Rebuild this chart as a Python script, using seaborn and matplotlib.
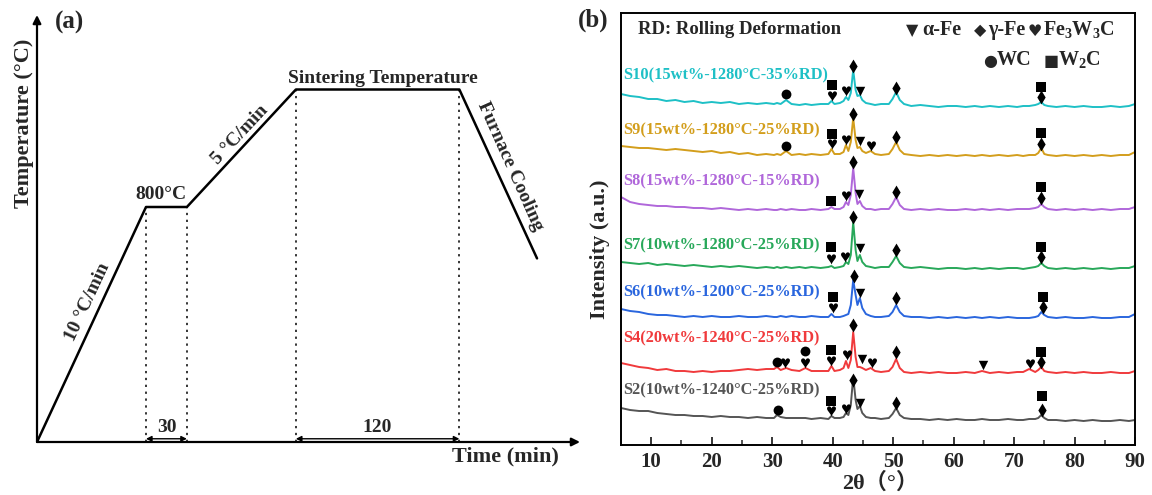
import numpy as np
import pandas as pd
import matplotlib
matplotlib.use("Agg")
import matplotlib.pyplot as plt
import seaborn as sns

# ---------------- panel (a): sintering schedule ----------------
time_min = [0, 80, 110, 190, 310, 367]
temp_c = [0, 800, 800, 1200, 1200, 625]
hold_start = [80, 190]
hold_end = [110, 310]
hold_labels = ["30", "120"]

# ---------------- panel (b): XRD patterns ----------------
two_theta = [5, 6.5, 8, 9.5, 11, 12.5, 14, 15.5, 17, 18.5, 20, 21.5, 23, 24.5, 26, 27.5, 29,
             30.3, 30.8, 31.4, 32.3, 33.2, 34.5, 35.5, 36.5, 38, 39.3, 39.8, 40.3, 41.2, 41.8,
             42.2, 42.6, 43.0, 43.4, 43.8, 44.1, 44.5, 44.9, 45.5, 46.3, 47, 48, 49.3, 49.9,
             50.5, 51.1, 51.8, 53, 54.5, 56, 57.5, 59, 60.5, 62, 63.5, 64.7, 66, 67.5, 69,
             70.5, 71.5, 72.5, 73.5, 74.0, 74.5, 75.0, 75.6, 77, 78.5, 80, 81.5, 83, 84.5,
             86, 87.5, 89, 90]

s10 = [351, 349, 348, 346, 346, 344, 345, 343, 344, 342, 343, 342, 343, 341, 342, 341, 342,
       341, 342, 341, 345, 341, 340, 341, 340, 341, 341, 344, 341, 342, 344,
       348, 345, 352, 375, 355, 349, 350, 345, 342, 341, 340, 341, 341, 346,
       353, 345, 341, 339, 340, 339, 338, 339, 339, 338, 339, 338, 339, 338, 339,
       338, 339, 339, 340, 341, 343, 340, 339, 338, 339, 338, 339, 338, 338,
       339, 338, 339, 341]
s9 = [299, 298, 297, 297, 296, 295, 296, 295, 294, 293, 294, 292, 293, 291, 292, 290, 291,
      290, 291, 290, 294, 290, 291, 290, 291, 290, 291, 296, 291, 291, 293,
      300, 294, 303, 327, 305, 297, 298, 294, 292, 294, 291, 290, 291, 296,
      303, 295, 291, 290, 289, 290, 289, 290, 289, 290, 289, 290, 289, 290, 289,
      290, 289, 290, 290, 292, 297, 291, 290, 289, 290, 289, 290, 289, 290,
      289, 290, 290, 293]
s8 = [248, 243, 241, 240, 239, 239, 238, 238, 237, 237, 236, 237, 236, 235, 236, 235, 236,
      235, 235, 236, 235, 236, 235, 235, 236, 235, 236, 238, 236, 236, 238,
      243, 240, 250, 277, 252, 241, 244, 239, 236, 236, 235, 236, 236, 241,
      248, 240, 236, 235, 236, 235, 236, 235, 235, 236, 235, 236, 235, 236, 235,
      236, 236, 236, 237, 238, 241, 238, 236, 235, 236, 235, 236, 235, 236,
      235, 236, 236, 238]
s7 = [183, 182, 181, 182, 180, 181, 180, 179, 180, 179, 178, 179, 178, 179, 178, 177, 178,
      177, 178, 177, 178, 177, 178, 177, 178, 177, 178, 179, 177, 178, 179,
      183, 181, 190, 223, 195, 184, 190, 183, 179, 178, 177, 178, 178, 183,
      189, 182, 178, 177, 178, 177, 176, 177, 177, 176, 177, 176, 177, 176, 177,
      177, 176, 177, 178, 179, 182, 179, 177, 176, 177, 176, 177, 176, 177,
      176, 177, 177, 179]
s6 = [136, 134, 133, 131, 130, 130, 129, 128, 129, 128, 129, 128, 128, 129, 128, 128, 129,
      128, 128, 129, 128, 129, 128, 128, 129, 128, 128, 131, 128, 128, 129,
      130, 131, 140, 165, 150, 140, 147, 137, 131, 129, 128, 128, 129, 133,
      140, 133, 129, 128, 128, 127, 128, 127, 128, 127, 128, 127, 128, 127, 128,
      127, 127, 127, 128, 129, 133, 130, 128, 127, 128, 127, 127, 128, 127,
      127, 128, 128, 131]
s4 = [82, 80, 78, 77, 75, 76, 74, 74, 73, 74, 73, 74, 74, 75, 76, 75, 76,
      76, 78, 75, 77, 75, 74, 77, 74, 74, 74, 79, 74, 75, 77,
      84, 77, 85, 113, 88, 78, 78, 77, 75, 77, 74, 73, 74, 78,
      86, 77, 73, 72, 73, 72, 73, 72, 72, 73, 72, 74, 72, 73, 72,
      73, 73, 76, 73, 75, 78, 74, 73, 72, 73, 72, 73, 72, 72,
      73, 72, 72, 74]
s2 = [37, 35, 34, 34, 32, 31, 30, 30, 29, 29, 28, 29, 28, 28, 27, 28, 27,
      27, 30, 28, 27, 27, 27, 27, 26, 27, 26, 29, 27, 27, 28,
      32, 30, 40, 68, 45, 36, 39, 32, 28, 27, 27, 26, 27, 31,
      37, 30, 27, 26, 26, 25, 26, 25, 26, 25, 25, 26, 25, 25, 26,
      25, 25, 26, 26, 27, 30, 27, 25, 25, 24, 25, 24, 25, 24,
      24, 25, 24, 25]

sample_names = ["S10(15wt%-1280°C-35%RD)", "S9(15wt%-1280°C-25%RD)", "S8(15wt%-1280°C-15%RD)",
                "S7(10wt%-1280°C-25%RD)", "S6(10wt%-1200°C-25%RD)", "S4(20wt%-1240°C-25%RD)",
                "S2(10wt%-1240°C-25%RD)"]
sample_values = [s10, s9, s8, s7, s6, s4, s2]

# phase markers: phase, 2theta, intensity level
mark_phase = ["WC", "W2C", "Fe3W3C", "Fe3W3C", "g", "a", "g", "W2C", "g",
              "WC", "W2C", "Fe3W3C", "Fe3W3C", "g", "a", "Fe3W3C", "g", "W2C", "g",
              "W2C", "Fe3W3C", "a", "g", "g", "W2C", "g",
              "W2C", "Fe3W3C", "Fe3W3C", "g", "a", "g", "W2C", "g",
              "W2C", "Fe3W3C", "g", "a", "g", "W2C", "g",
              "WC", "Fe3W3C", "WC", "Fe3W3C", "W2C", "Fe3W3C", "Fe3W3C", "g", "a", "Fe3W3C", "g", "a", "Fe3W3C", "g", "W2C",
              "WC", "W2C", "Fe3W3C", "Fe3W3C", "g", "a", "g", "W2C", "g"]
mark_x = [32.3, 39.9, 39.9, 42.2, 43.4, 44.5, 50.5, 74.4, 74.4,
          32.3, 39.9, 39.9, 42.2, 43.4, 44.6, 46.4, 50.5, 74.4, 74.4,
          39.8, 42.2, 44.4, 43.4, 50.5, 74.4, 74.4,
          39.8, 39.8, 42.1, 43.4, 44.5, 50.5, 74.5, 74.5,
          40.1, 40.1, 43.5, 44.5, 50.5, 74.8, 74.8,
          30.8, 32.2, 35.5, 35.5, 39.8, 39.8, 42.4, 43.3, 44.8, 46.5, 50.4, 64.8, 72.7, 74.4, 74.4,
          31.0, 39.8, 39.8, 42.2, 43.4, 44.5, 50.5, 74.7, 74.7]
mark_y = [351, 360, 349, 354, 379, 354, 357, 358, 348,
          299, 311, 301, 305, 331, 304, 299, 308, 312, 301,
          244, 249, 251, 283, 253, 258, 247,
          198, 186, 188, 228, 197, 195, 198, 188,
          148, 137, 169, 152, 147, 148, 138,
          83, 82, 94, 82, 95, 84, 90, 120, 86, 82, 93, 80, 81, 83, 93,
          35, 44, 34, 36, 65, 42, 42, 49, 35]

# ---------------- styling ----------------
sns.set_style("ticks")
plt.rcParams["font.family"] = ["Liberation Serif", "DejaVu Sans"]
plt.rcParams["font.weight"] = "bold"
plt.rcParams["mathtext.fontset"] = "custom"
plt.rcParams["mathtext.rm"] = "Liberation Serif:bold"
plt.rcParams["mathtext.it"] = "Liberation Serif:bold"
plt.rcParams["mathtext.bf"] = "Liberation Serif:bold"

W, H = 1152, 495
fig = plt.figure(figsize=(W / 100, H / 100), dpi=100)
fig.patch.set_facecolor("white")


def fx(px):
    return px / W


def fy(py):
    return 1 - py / H


# ---------------- panel (a) ----------------
ax_a = fig.add_axes([fx(37), fy(442), fx(580) - fx(37), fy(15) - fy(442)])
ax_a.set_xlim(0, 543 / 1.3625)
ax_a.set_ylim(0, 427 / 0.29375)
for sp in ax_a.spines.values():
    sp.set_visible(False)
ax_a.set_xticks([])
ax_a.set_yticks([])
ax_a.patch.set_alpha(0)

sns.lineplot(x=time_min, y=temp_c, sort=False, color="black", lw=1.8, ax=ax_a)

arrow_kw = dict(arrowstyle="-|>", lw=1.6, color="black", shrinkA=0, shrinkB=0, mutation_scale=12)
ax_a.annotate("", xy=(0, 1), xytext=(0, 0), xycoords="axes fraction", arrowprops=arrow_kw)
ax_a.annotate("", xy=(1, 0), xytext=(0, 0), xycoords="axes fraction", arrowprops=arrow_kw)

for t0, t1, lab in zip(hold_start, hold_end, hold_labels):
    for t in (t0, t1):
        ax_a.plot([t, t], [0, temp_c[time_min.index(t)]], ls=(0, (1.5, 3)), lw=1.1, color="black")
    ax_a.annotate("", xy=(t1, 11), xytext=(t0, 11),
                  arrowprops=dict(arrowstyle="<|-|>", lw=1.0, color="black",
                                  shrinkA=0, shrinkB=0, mutation_scale=8))
    ax_a.text((t0 + t1) / 2, 48, lab, ha="center", va="center", fontsize=14, fontweight="bold")

ax_a.text(37.4, 478, "10 °C/min", rotation=65, ha="center", va="center", fontsize=14,
          fontweight="bold", rotation_mode="anchor")
ax_a.text(149, 1045, "5 °C/min", rotation=47, ha="center", va="center", fontsize=14,
          fontweight="bold", rotation_mode="anchor")
ax_a.text(91, 841, "800°C", ha="center", va="center", fontsize=14, fontweight="bold")
ax_a.text(254, 1239, "Sintering Temperature", ha="center", va="center", fontsize=14,
          fontweight="bold")
ax_a.text(347, 940, "Furnace Cooling", rotation=-66, ha="center", va="center", fontsize=14,
          fontweight="bold", rotation_mode="anchor")
ax_a.text(343.5, -51, "Time (min)", ha="center", va="center", fontsize=16, fontweight="bold",
          clip_on=False)
fig.text(fx(24), fy(123), "Temperature (°C)", rotation=90, ha="center", va="center",
         fontsize=16, fontweight="bold")
fig.text(fx(69), fy(22), "(a)", ha="center", va="center", fontsize=18, fontweight="bold")

# ---------------- panel (b) ----------------
ax_b = fig.add_axes([fx(621), fy(445), fx(1135) - fx(621), fy(13) - fy(445)])

palette = ["#1EC0C6", "#D39E1C", "#B067DA", "#28A85A", "#2A66DE", "#F03A3C", "#555555"]
rows = []
for name, vals in zip(sample_names, sample_values):
    for x, y in zip(two_theta, vals):
        rows.append((name, x, y))
df = pd.DataFrame(rows, columns=["sample", "two_theta", "intensity"])
sns.lineplot(data=df, x="two_theta", y="intensity", hue="sample", palette=palette,
             hue_order=sample_names, estimator=None, sort=False, lw=1.4, legend=False, ax=ax_b)

mk = pd.DataFrame({"phase": mark_phase, "x": mark_x, "y": mark_y})
marker_style = {"a": ("v", 46), "g": ("d", 50), "Fe3W3C": ("$\u2665$", 55), "WC": ("o", 50),
                "W2C": ("s", 54)}
for ph, (m, s) in marker_style.items():
    sub = mk[mk.phase == ph]
    sns.scatterplot(data=sub, x="x", y="y", marker=m, s=s, color="black", linewidth=0,
                    ax=ax_b, legend=False, zorder=5)

ax_b.set_xlim(5, 90)
ax_b.set_ylim(0, 432)
ax_b.set_yticks([])
ax_b.set_xticks(range(10, 91, 10))
ax_b.set_xticks(range(15, 90, 10), minor=True)
ax_b.tick_params(axis="x", which="major", direction="in", length=6, width=1.3, labelsize=15,
                 pad=5)
ax_b.tick_params(axis="x", which="minor", direction="in", length=3.5, width=1.1)
for lab in ax_b.get_xticklabels():
    lab.set_fontweight("bold")
for sp in ax_b.spines.values():
    sp.set_linewidth(1.4)
    sp.set_color("black")
ax_b.set_xlabel("")
ax_b.set_ylabel("")

label_y = [370, 315, 264, 200, 153, 107, 55]
for name, ly, col in zip(sample_names, label_y, palette):
    ax_b.text(5.3, ly, name, color=col, ha="left", va="center", fontsize=11.8, fontweight="bold")

fig.text(fx(638), fy(30), "RD: Rolling Deformation", ha="left", va="center", fontsize=13.5,
         fontweight="bold")
sym_kw = dict(ha="center", va="center", fontsize=11.5, family="DejaVu Sans")
txt_kw = dict(ha="left", va="center", fontsize=14.5, fontweight="bold")
fig.text(fx(912), fy(31), "\u25BC", **sym_kw)
fig.text(fx(922), fy(30), "α-Fe", **txt_kw)
fig.text(fx(980), fy(31), "\u25C6", **sym_kw)
fig.text(fx(988), fy(30), "γ-Fe", **txt_kw)
fig.text(fx(1035), fy(31), "\u2665", **sym_kw)
fig.text(fx(1043), fy(30), "Fe$_3$W$_3$C", **txt_kw)
fig.text(fx(990), fy(61), "\u25CF", **sym_kw)
fig.text(fx(997), fy(60), "WC", **txt_kw)
fig.text(fx(1051), fy(61), "\u25A0", **sym_kw)
fig.text(fx(1058), fy(60), "W$_2$C", **txt_kw)

fig.text(fx(593), fy(20), "(b)", ha="center", va="center", fontsize=18, fontweight="bold")
fig.text(fx(600), fy(249), "Intensity (a.u.)", rotation=90, ha="center", va="center",
         fontsize=16, fontweight="bold")
fig.text(fx(880), fy(483), "2θ（°）", ha="center", va="center", fontsize=16, fontweight="bold",
         family=["Liberation Serif", "Noto Sans CJK SC"])

fig.savefig("out.png", dpi=100, facecolor="white")
